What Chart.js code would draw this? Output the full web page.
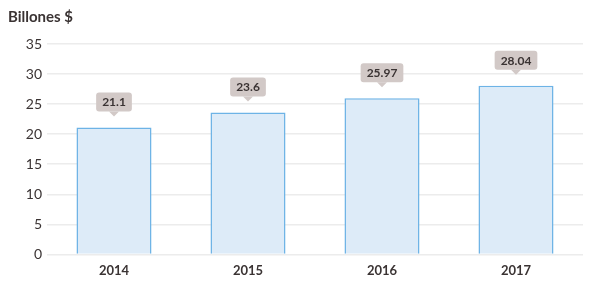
<!DOCTYPE html>
<html>
<head>
<meta charset="utf-8">
<script src="https://cdn.jsdelivr.net/npm/chart.js@4"></script>
<style>
  html, body { margin: 0; padding: 0; background: #fff; }
  #wrap { width: 594px; height: 288px; position: relative; }
</style>
</head>
<body>
<div id="wrap"><canvas id="chart"></canvas></div>
<script>
// --- Data ---
const years = ['2014', '2015', '2016', '2017'];
const billones = [21.1, 23.6, 25.97, 28.04];
const valueLabels = ['21.1', '23.6', '25.97', '28.04'];
const yTicks = [0, 5, 10, 15, 20, 25, 30, 35];

// callout boxes above each bar
const calloutPlugin = {
    id: 'callouts',
    afterDatasetsDraw(chart) {
        const ctx = chart.ctx;
        const meta = chart.getDatasetMeta(0);
        ctx.save();
        ctx.font = 'bold 12px Lato';
        ctx.textAlign = 'center';
        ctx.textBaseline = 'middle';
        meta.data.forEach((bar, i) => {
            const txt = valueLabels[i];
            const w = ctx.measureText(txt).width + 12;
            const h = 19;
            const tipY = bar.y - 11;
            const boxBottom = tipY - 5;
            const x = bar.x - w / 2;
            const y = boxBottom - h;
            ctx.fillStyle = '#d2c9c7';
            ctx.beginPath();
            ctx.roundRect(x, y, w, h, 3);
            ctx.fill();
            ctx.beginPath();
            ctx.moveTo(bar.x - 5, boxBottom);
            ctx.lineTo(bar.x + 5, boxBottom);
            ctx.lineTo(bar.x, tipY);
            ctx.closePath();
            ctx.fill();
            ctx.fillStyle = '#3a3333';
            ctx.fillText(txt, bar.x, y + h / 2 + 0.5);
        });
        ctx.restore();
    }
};

new Chart(document.getElementById('chart'), {
    type: 'bar',
    data: {
        labels: years,
        datasets: [{
            data: billones,
            backgroundColor: '#ddebf8',
            borderColor: '#6db3e6',
            borderWidth: 1.5,
            categoryPercentage: 1,
            barPercentage: 0.56
        }]
    },
    options: {
        responsive: true,
        maintainAspectRatio: false,
        animation: false,
        layout: { padding: { left: 8, right: 11, top: 0, bottom: 0 } },
        scales: {
            y: {
                min: 0,
                max: 35,
                afterBuildTicks: (axis) => { axis.ticks = yTicks.map(v => ({ value: v })); },
                afterFit: (axis) => { axis.width = 39; },
                border: { display: false },
                grid: { color: '#ececec', lineWidth: 1.5, drawTicks: false },
                ticks: { color: '#3a3333', font: { family: 'Lato', size: 14 }, padding: 5 }
            },
            x: {
                border: { display: false },
                grid: { display: false, drawTicks: false },
                ticks: { color: '#3a3333', font: { family: 'Lato', size: 13, weight: 'bold' }, padding: 9 }
            }
        },
        plugins: {
            legend: { display: false },
            tooltip: { enabled: false },
            title: {
                display: true,
                text: 'Billones $',
                align: 'start',
                color: '#3a3333',
                font: { family: 'Lato', size: 15, weight: 'bold' },
                padding: { top: 8, bottom: 18 }
            }
        }
    },
    plugins: [calloutPlugin]
});
</script>
</body>
</html>
